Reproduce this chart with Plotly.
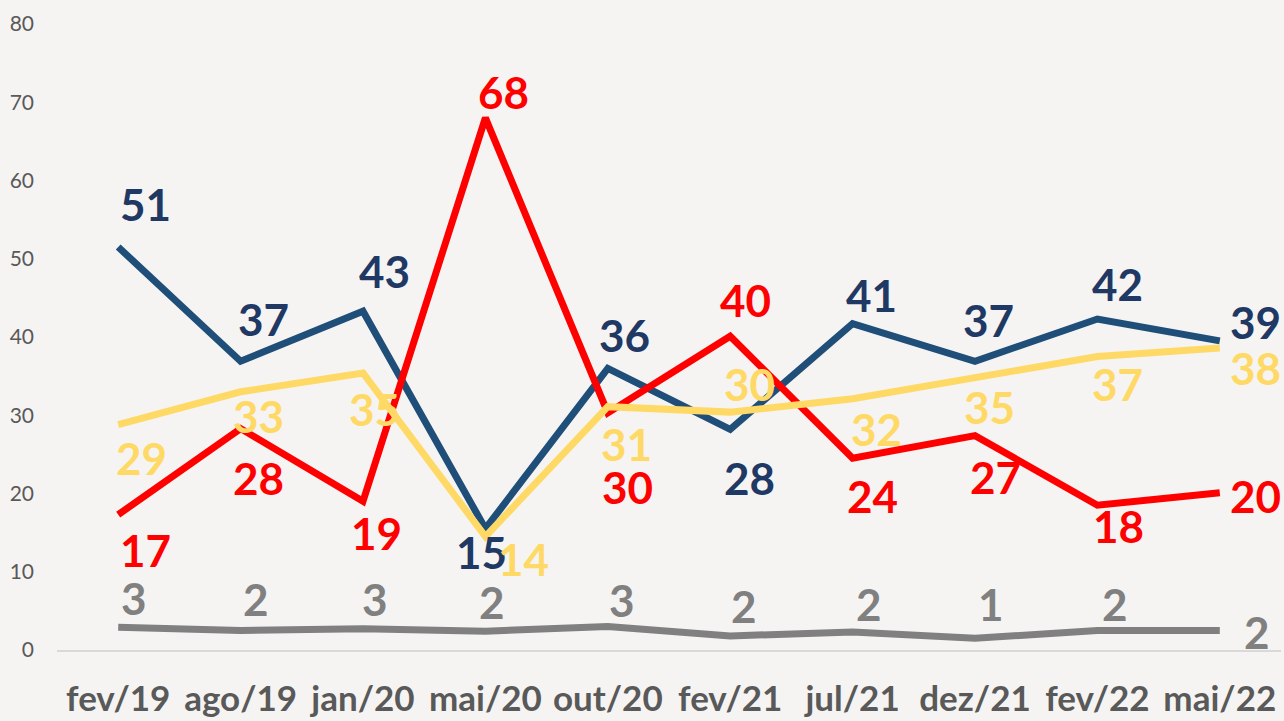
import plotly.graph_objects as go

categories = ["fev/19", "ago/19", "jan/20", "mai/20", "out/20", "fev/21", "jul/21", "dez/21", "fev/22", "mai/22"]

blue_values = [51.5, 36.9, 43.3, 15.5, 36.0, 28.2, 41.7, 36.9, 42.3, 39.5]
red_values = [17.3, 28.3, 19.0, 68.0, 30.3, 40.1, 24.5, 27.4, 18.5, 20.1]
yellow_values = [28.8, 33.0, 35.4, 14.5, 31.1, 30.4, 32.1, 34.9, 37.5, 38.6]
grey_values = [2.9, 2.5, 2.7, 2.4, 3.0, 1.8, 2.3, 1.5, 2.5, 2.5]

# data labels as printed
blue_labels = [51, 37, 43, 15, 36, 28, 41, 37, 42, 39]
red_labels = [17, 28, 19, 68, 30, 40, 24, 27, 18, 20]
yellow_labels = [29, 33, 35, 14, 31, 30, 32, 35, 37, 38]
grey_labels = [3, 2, 3, 2, 3, 2, 2, 1, 2, 2]

y_ticks = [0, 10, 20, 30, 40, 50, 60, 70, 80]

# label offsets in pixels (dx right, dy down) — layout only
blue_off = [(27, -43), (23, -42), (21, -40), (-4, 23), (17, -33), (19, 49), (19, -29), (13, -41), (20, -35), (36, -19)]
red_off = [(27, 35), (18, 49), (13, 32), (18, -26), (20, 74), (15, -36), (20, 38), (20, 41), (21, 21), (36, 3)]
yellow_off = [(23, 33), (18, 24), (11, 36), (38, 22), (19, 37), (19, -28), (24, 30), (14, 30), (20, 27), (36, 20)]
grey_off = [(16, -29), (15, -31), (12, -30), (7, -29), (14, -27), (14, -30), (16, -28), (16, -34), (18, -26), (37, 2)]

BLUE_LINE = "#1F4E79"
BLUE_TEXT = "#1F3864"
RED = "#FF0000"
YELLOW = "#FFD966"
GREY = "#808080"
AXIS_TXT = "#595959"
BG = "#F5F4F2"
FONT = "Lato"

series = [
    ("grey", grey_values, grey_labels, grey_off, GREY, GREY),
    ("blue", blue_values, blue_labels, blue_off, BLUE_LINE, BLUE_TEXT),
    ("red", red_values, red_labels, red_off, RED, RED),
    ("yellow", yellow_values, yellow_labels, yellow_off, YELLOW, YELLOW),
]

fig = go.Figure()
annotations = []
for name, vals, labs, offs, lc, tc in series:
    fig.add_trace(go.Scatter(
        x=categories, y=vals, mode="lines", name=name,
        line=dict(color=lc, width=7), showlegend=False, hoverinfo="skip",
    ))
for name, vals, labs, offs, lc, tc in series:
    for c, v, l, (dx, dy) in zip(categories, vals, labs, offs):
        annotations.append(dict(
            x=c, y=v, xref="x", yref="y", text=str(l), showarrow=False,
            xshift=dx, yshift=-dy, xanchor="center", yanchor="middle",
            font=dict(family=FONT, size=44, color=tc, weight="bold"),
        ))

fig.update_layout(
    width=1284, height=721,
    paper_bgcolor=BG, plot_bgcolor=BG,
    margin=dict(l=57, r=3, t=24, b=69),
    annotations=annotations,
    showlegend=False,
)
fig.update_xaxes(
    type="category", range=[-0.5, 9.5], showgrid=False, zeroline=False,
    showline=True, linecolor="#D9D9D9", linewidth=1.5,
    ticks="", tickfont=dict(family=FONT, size=35, color=AXIS_TXT, weight="bold"),
    ticklabelstandoff=17,
)
fig.update_yaxes(
    range=[0, 80], tickvals=y_ticks, showgrid=False, zeroline=False,
    showline=False, ticks="",
    tickfont=dict(family=FONT, size=21, color=AXIS_TXT),
    ticklabelstandoff=22,
)

fig.write_html(
    "out.html",
    config={"displayModeBar": False},
    post_script="document.body.style.margin='0';document.body.style.padding='0';document.body.style.overflow='hidden';document.body.style.background='" + BG + "';",
)
